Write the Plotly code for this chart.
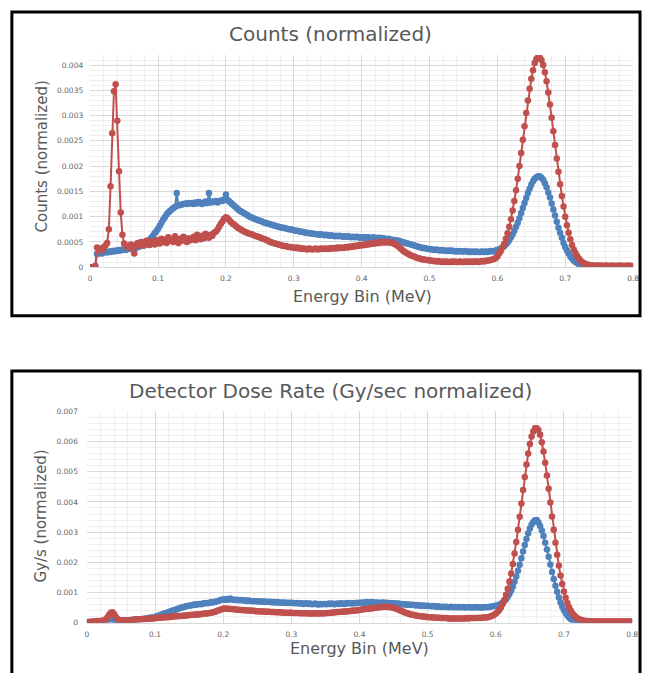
import plotly.graph_objects as go

W, H = 647, 673

# Energy bin centres (MeV), 0.0025 MeV wide bins
energy_bins_mev = [round(i * 0.0025, 4) for i in range(321)]

# ---- Counts (normalized), values in units of 1e-6 ----
counts_red_e6 = [
    0, 0, 0, 20, 390, 350, 370, 340, 400, 430, 480, 750, 1600, 2650, 3480, 3620, 2900, 1900, 1080, 640,
    470, 430, 400, 380, 450, 420, 270, 440, 480, 420, 500, 460, 430, 520, 470, 440, 510, 480, 450, 530,
    520, 470, 560, 500, 540, 480, 590, 520, 550, 500, 610, 530, 480, 560, 520, 600, 540, 500, 570, 530,
    560, 600, 530, 640, 580, 550, 620, 570, 660, 600, 580, 640, 620, 680, 700, 740, 800, 860, 910, 960,
    990, 970, 930, 890, 860, 840, 810, 780, 760, 740, 720, 700, 690, 670, 660, 650, 640, 620, 610, 600,
    590, 570, 560, 550, 530, 520, 500, 490, 480, 470, 460, 450, 440, 430, 420, 420, 410, 400, 400, 390,
    390, 380, 390, 370, 380, 360, 370, 360, 350, 370, 360, 350, 360, 370, 350, 360, 370, 360, 370, 360,
    370, 360, 380, 370, 380, 370, 390, 380, 390, 380, 390, 400, 390, 410, 400, 420, 410, 430, 420, 440,
    430, 450, 440, 460, 450, 470, 460, 480, 470, 490, 480, 500, 490, 500, 490, 500, 490, 500, 480, 470,
    450, 430, 400, 370, 340, 310, 290, 270, 250, 230, 220, 210, 190, 180, 170, 160, 150, 150, 140, 140,
    130, 130, 120, 120, 110, 120, 110, 100, 110, 100, 110, 100, 100, 110, 100, 110, 100, 100, 110, 100,
    100, 110, 100, 110, 100, 110, 100, 110, 110, 100, 110, 120, 110, 120, 130, 130, 140, 150, 160, 180,
    210, 270, 320, 390, 460, 560, 670, 800, 950, 1120, 1310, 1520, 1750, 2000, 2260, 2520, 2790, 3050, 3300, 3530,
    3730, 3900, 4040, 4120, 4160, 4150, 4100, 4000, 3860, 3680, 3460, 3220, 2960, 2690, 2420, 2150, 1890, 1640, 1410, 1200,
    1000, 830, 680, 550, 440, 350, 280, 220, 170, 130, 100, 80, 60, 50, 40, 35, 30, 30, 25, 30,
    25, 30, 25, 20, 30, 25, 20, 25, 30, 20, 25, 20, 30, 25, 20, 25, 20, 30, 25, 20,
    20,
]

counts_blue_e6 = [
    0, 0, 0, 20, 260, 270, 280, 270, 290, 300, 290, 310, 300, 320, 310, 330, 320, 340, 330, 350,
    350, 340, 360, 370, 360, 380, 390, 380, 400, 410, 420, 430, 450, 470, 500, 540, 580, 620, 670, 710,
    760, 820, 880, 940, 990, 1040, 1080, 1110, 1140, 1170, 1190, 1470, 1220, 1230, 1240, 1250, 1260, 1250, 1270, 1260,
    1270, 1250, 1280, 1260, 1290, 1270, 1250, 1280, 1300, 1270, 1470, 1280, 1300, 1290, 1310, 1280, 1300, 1320, 1310, 1340,
    1440, 1330, 1300, 1270, 1240, 1210, 1180, 1150, 1120, 1100, 1080, 1060, 1040, 1020, 1000, 990, 970, 960, 940, 930,
    920, 910, 890, 880, 870, 860, 850, 840, 830, 820, 810, 800, 790, 780, 780, 770, 760, 750, 750, 740,
    730, 720, 720, 710, 700, 700, 690, 680, 680, 670, 670, 660, 660, 650, 650, 640, 650, 640, 630, 640,
    630, 620, 630, 620, 610, 620, 610, 620, 610, 600, 610, 600, 610, 600, 590, 600, 590, 600, 590, 580,
    590, 580, 590, 580, 590, 570, 580, 590, 570, 580, 570, 580, 560, 570, 560, 550, 560, 540, 540, 530,
    530, 520, 520, 510, 500, 490, 480, 470, 460, 450, 440, 430, 420, 410, 400, 390, 380, 380, 370, 360,
    360, 350, 350, 340, 350, 340, 330, 340, 330, 330, 320, 330, 320, 330, 320, 310, 320, 310, 320, 310,
    310, 320, 310, 300, 310, 300, 310, 300, 310, 300, 300, 310, 300, 310, 300, 310, 320, 310, 320, 330,
    340, 350, 370, 390, 415, 450, 490, 530, 590, 650, 720, 800, 880, 970, 1070, 1170, 1270, 1370, 1470, 1550,
    1630, 1700, 1750, 1780, 1800, 1800, 1770, 1730, 1660, 1580, 1480, 1380, 1260, 1140, 1020, 900, 780, 680, 580, 480,
    400, 330, 270, 210, 170, 130, 100, 80, 60, 40, 30, 25, 20, 15, 10, 10, 5, 5, 5, 5,
    5, 5, 5, 5, 5, 5, 5, 5, 5, 5, 5, 5, 5, 5, 5, 5, 5, 5, 5, 5,
    5,
]

# ---- Detector dose rate (Gy/s normalized), values in units of 1e-6 ----
dose_red_e6 = [
    20, 20, 30, 30, 40, 40, 50, 50, 50, 60, 70, 100, 170, 260, 330, 340, 280, 190, 120, 80,
    70, 70, 70, 80, 80, 80, 90, 90, 100, 100, 100, 110, 110, 120, 120, 120, 130, 130, 140, 140,
    150, 150, 160, 160, 170, 170, 180, 180, 190, 190, 200, 200, 210, 210, 220, 220, 230, 230, 240, 240,
    250, 250, 260, 260, 270, 270, 280, 280, 290, 300, 300, 310, 320, 330, 340, 360, 380, 400, 420, 440,
    460, 470, 460, 460, 450, 450, 440, 440, 430, 430, 420, 420, 410, 410, 400, 400, 400, 390, 390, 380,
    380, 380, 370, 370, 370, 360, 360, 360, 350, 350, 350, 340, 340, 340, 340, 330, 330, 330, 330, 330,
    330, 320, 320, 320, 320, 310, 310, 310, 310, 310, 300, 300, 300, 300, 310, 300, 300, 310, 300, 310,
    310, 320, 320, 330, 330, 340, 340, 350, 350, 360, 360, 370, 370, 380, 380, 390, 390, 400, 400, 410,
    420, 430, 440, 450, 450, 460, 470, 480, 480, 490, 500, 500, 510, 520, 520, 530, 520, 520, 510, 500,
    490, 470, 450, 430, 400, 380, 350, 330, 310, 290, 270, 260, 250, 240, 230, 220, 210, 200, 200, 190,
    190, 180, 180, 170, 170, 160, 160, 160, 150, 150, 150, 150, 140, 140, 140, 140, 140, 140, 140, 140,
    140, 140, 140, 150, 140, 150, 150, 150, 150, 150, 160, 150, 160, 170, 170, 180, 190, 210, 230, 260,
    300, 355, 420, 505, 615, 750, 920, 1120, 1360, 1630, 1940, 2290, 2670, 3080, 3510, 3950, 4400, 4830, 5240, 5610,
    5920, 6170, 6340, 6440, 6440, 6390, 6230, 5980, 5670, 5300, 4880, 4440, 3980, 3520, 3080, 2650, 2250, 1890, 1560, 1280,
    1030, 825, 650, 510, 400, 305, 240, 180, 140, 110, 90, 75, 65, 55, 50, 45, 45, 40, 45, 40,
    40, 45, 40, 35, 40, 45, 40, 35, 40, 40, 45, 40, 35, 40, 45, 40, 40, 35, 40, 40,
    40,
]

dose_blue_e6 = [
    10, 10, 20, 20, 30, 30, 40, 40, 40, 50, 50, 60, 80, 100, 110, 100, 80, 60, 50, 50,
    60, 60, 70, 70, 80, 80, 90, 90, 100, 100, 110, 110, 120, 120, 130, 140, 150, 160, 170, 180,
    190, 210, 230, 250, 270, 290, 310, 330, 350, 370, 390, 410, 430, 450, 470, 490, 510, 520, 540, 550,
    560, 570, 580, 600, 590, 610, 620, 610, 630, 640, 650, 640, 660, 680, 670, 690, 700, 720, 740, 760,
    770, 760, 780, 760, 800, 770, 760, 750, 760, 740, 750, 740, 730, 740, 720, 730, 720, 710, 720, 710,
    710, 700, 710, 690, 700, 690, 690, 680, 690, 670, 680, 670, 680, 660, 670, 660, 670, 650, 660, 650,
    660, 650, 640, 650, 640, 630, 640, 620, 630, 640, 620, 630, 610, 620, 630, 610, 600, 620, 610, 620,
    620, 610, 630, 620, 630, 610, 620, 630, 620, 640, 630, 620, 640, 630, 650, 640, 630, 650, 640, 660,
    650, 660, 670, 650, 680, 660, 670, 680, 660, 670, 660, 670, 650, 660, 670, 650, 660, 640, 650, 640,
    630, 640, 620, 630, 610, 620, 600, 610, 590, 600, 580, 590, 580, 570, 580, 570, 560, 570, 560, 550,
    560, 550, 540, 550, 540, 530, 540, 530, 520, 530, 520, 530, 510, 520, 530, 510, 520, 510, 520, 510,
    510, 520, 500, 510, 520, 500, 510, 500, 510, 520, 500, 510, 500, 510, 520, 510, 520, 530, 540, 550,
    560, 575, 595, 625, 665, 715, 775, 855, 950, 1065, 1200, 1355, 1530, 1720, 1920, 2135, 2355, 2570, 2775, 2960,
    3120, 3250, 3340, 3390, 3400, 3320, 3200, 3050, 2870, 2650, 2420, 2180, 1930, 1680, 1450, 1220, 1020, 830, 670, 530,
    410, 315, 235, 170, 120, 80, 57, 40, 28, 20, 15, 10, 10, 10, 10, 10, 10, 10, 10, 10,
    10, 10, 10, 10, 10, 10, 10, 10, 10, 10, 10, 10, 10, 10, 10, 10, 10, 10, 10, 10,
    10,
]

x_tick_vals = [0, 0.1, 0.2, 0.3, 0.4, 0.5, 0.6, 0.7, 0.8]
x_tick_text = ["0", "0.1", "0.2", "0.3", "0.4", "0.5", "0.6", "0.7", "0.8"]
counts_tick_vals = [0, 0.0005, 0.001, 0.0015, 0.002, 0.0025, 0.003, 0.0035, 0.004]
counts_tick_text = ["0", "0.0005", "0.001", "0.0015", "0.002", "0.0025", "0.003", "0.0035", "0.004"]
dose_tick_vals = [0, 0.001, 0.002, 0.003, 0.004, 0.005, 0.006, 0.007]
dose_tick_text = ["0", "0.001", "0.002", "0.003", "0.004", "0.005", "0.006", "0.007"]

BLUE = "#4f81bd"
RED = "#c0504d"
TXT = "#595959"
FONT = "DejaVu Sans"


def scale(vals):
    return [v * 1e-6 for v in vals]


def px_x(p):
    return p / W


def px_y(p):
    return 1 - p / H


fig = go.Figure()
for ys, col, xa, ya in [
    (counts_blue_e6, BLUE, "x", "y"),
    (counts_red_e6, RED, "x", "y"),
    (dose_blue_e6, BLUE, "x2", "y2"),
    (dose_red_e6, RED, "x2", "y2"),
]:
    fig.add_trace(go.Scatter(
        x=energy_bins_mev, y=scale(ys), xaxis=xa, yaxis=ya,
        mode="lines+markers",
        line=dict(color=col, width=2),
        marker=dict(color=col, size=6.5, line=dict(width=0)),
        showlegend=False, hoverinfo="skip",
    ))

axis_common = dict(
    showgrid=True, gridcolor="#d9d9d9", gridwidth=1, zeroline=False,
    tickmode="array", ticks="", tickfont=dict(family=FONT, size=7.5, color="#666666"),
)

fig.update_layout(
    width=W, height=H,
    margin=dict(l=0, r=0, t=0, b=0),
    paper_bgcolor="white", plot_bgcolor="white",
    font=dict(family=FONT, color=TXT),
    xaxis=dict(domain=[px_x(89.3), px_x(639)], range=[0, 0.8], anchor="y",
               tickvals=x_tick_vals, ticktext=x_tick_text,
               showline=True, linecolor="#d9d9d9", ticklabelstandoff=4,
               minor=dict(tickmode="linear", tick0=0, dtick=0.02, showgrid=True, gridcolor="#efefef"),
               **axis_common),
    yaxis=dict(domain=[px_y(266.7), px_y(51.7)], range=[0, 0.0042], anchor="x",
               tickvals=counts_tick_vals, ticktext=counts_tick_text, ticklabelstandoff=6,
               minor=dict(tickmode="linear", tick0=0, dtick=0.0001, showgrid=True, gridcolor="#efefef"),
               **axis_common),
    xaxis2=dict(domain=[px_x(86), px_x(638)], range=[0, 0.8], anchor="y2",
                tickvals=x_tick_vals, ticktext=x_tick_text,
                showline=True, linecolor="#d9d9d9", ticklabelstandoff=4,
                minor=dict(tickmode="linear", tick0=0, dtick=0.02, showgrid=True, gridcolor="#efefef"),
                **axis_common),
    yaxis2=dict(domain=[px_y(627), px_y(413)], range=[0, 0.007], anchor="x2",
                tickvals=dose_tick_vals, ticktext=dose_tick_text, ticklabelstandoff=8,
                minor=dict(tickmode="linear", tick0=0, dtick=0.0002, showgrid=True, gridcolor="#efefef"),
                **axis_common),
)

texts = [
    ("Counts (normalized)", 333, 30, 20, 0),
    ("Energy Bin (MeV)", 365, 296, 16, 0),
    ("Counts (normalized)", 40, 155, 15, -90),
    ("Detector Dose Rate (Gy/sec normalized)", 333, 392, 20, 0),
    ("Energy Bin (MeV)", 362, 653, 16, 0),
    ("Gy/s (normalized)", 40, 519, 15, -90),
]
for t, x, y, s, ang in texts:
    fig.add_annotation(text=t, xref="paper", yref="paper", x=px_x(x), y=px_y(y),
                       xanchor="center", yanchor="middle", showarrow=False, textangle=ang,
                       font=dict(family=FONT, size=s, color=TXT))

# Panel frames
fig.add_shape(type="rect", xref="paper", yref="paper",
              x0=px_x(10), x1=px_x(646), y0=px_y(316), y1=px_y(8),
              line=dict(color="black", width=3), fillcolor="rgba(0,0,0,0)", layer="above")
fig.add_shape(type="rect", xref="paper", yref="paper",
              x0=px_x(10), x1=px_x(646), y0=px_y(690), y1=px_y(372),
              line=dict(color="black", width=3), fillcolor="rgba(0,0,0,0)", layer="above")

fig.write_html(
    "out.html",
    config={"displayModeBar": False},
    post_script="document.body.style.margin='0';document.body.style.overflow='hidden';",
)
